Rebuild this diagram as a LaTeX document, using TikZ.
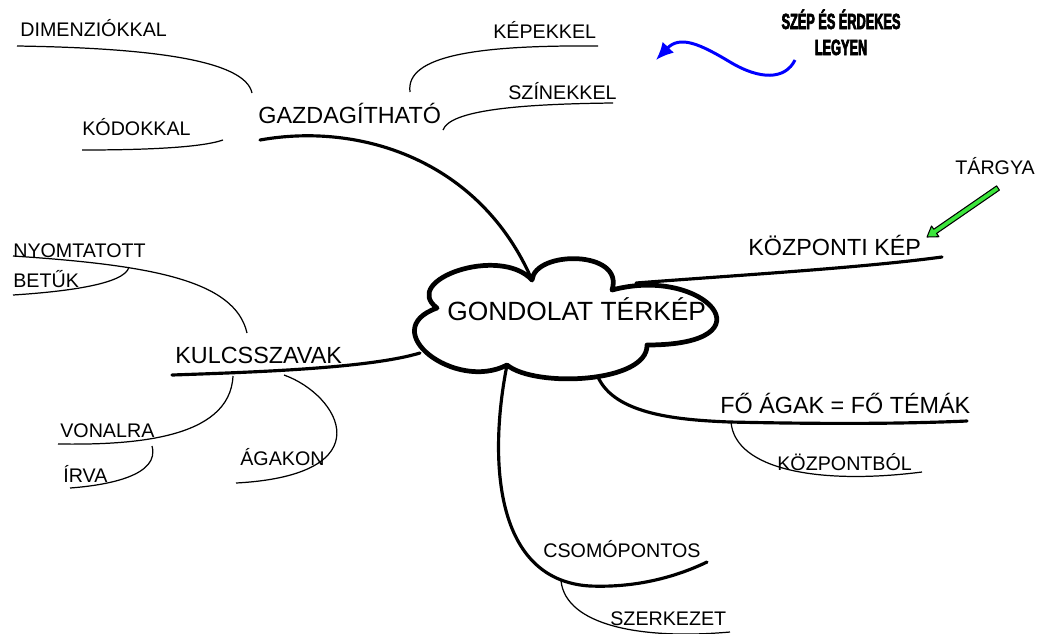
\documentclass[tikz,border=0pt]{standalone}
\usepackage{fontspec}
\setmainfont{Liberation Sans}
\newfontfamily\posterfont[FakeStretch=0.58,FakeBold=3]{Liberation Sans}
\usetikzlibrary{arrows.meta}
\definecolor{arrowgreen}{RGB}{60,230,60}
\tikzset{
	bough/.style={line width=1.8pt, line cap=round},
	twig/.style={line width=0.7pt},
	leaflbl/.style={font=\fontsize{11.2}{13}\selectfont, inner sep=0pt, anchor=base west},
	boughlbl/.style={font=\fontsize{13.3}{15}\selectfont, inner sep=0pt, anchor=base west},
	notelbl/.style={font=\posterfont\bfseries\fontsize{12.5}{14}\selectfont, inner sep=0pt, anchor=base}
}

\begin{document}
\begin{tikzpicture}[x=0.02cm, y=-0.02cm]
		\useasboundingbox (0,0) rectangle (1040,633);
		%%%%% CLOUD POINTS %%%%%
		\coordinate (cA) at (437,308);
		\coordinate (cB) at (532,280);
		\coordinate (cC) at (612,290);
		\coordinate (cD) at (647,345);
		\coordinate (cE) at (507,365);
		\coordinate (cRight) at (636,283);
		\coordinate (cLow) at (598,377);
		\coordinate (cLeft) at (420,353);
		
		%%%%% LABELS %%%%%
		\node[leaflbl] (dim) at (20,36) {DIMENZIÓKKAL};
		\node[leaflbl] (kod) at (82,135) {KÓDOKKAL};
		\node[boughlbl] (gazd) at (258,123) {GAZDAGÍTHATÓ};
		\node[leaflbl] (kep) at (493,38) {KÉPEKKEL};
		\node[leaflbl] (szin) at (508,99) {SZÍNEKKEL};
		\node[boughlbl] (kozp) at (748,255) {KÖZPONTI KÉP};
		\node[leaflbl] (targy) at (955,174) {TÁRGYA};
		\node[boughlbl] (kulcs) at (175,363) {KULCSSZAVAK};
		\node[leaflbl] (nyomt) at (13,257) {NYOMTATOTT};
		\node[leaflbl] (betuk) at (13,287) {BETŰK};
		\node[leaflbl] (vonal) at (60,437) {VONALRA};
		\node[leaflbl] (irva) at (63,482) {ÍRVA};
		\node[leaflbl] (agakon) at (240,465) {ÁGAKON};
		\node[boughlbl] (fo) at (720,413) {FŐ ÁGAK = FŐ TÉMÁK};
		\node[leaflbl] (kozpb) at (777,470) {KÖZPONTBÓL};
		\node[leaflbl] (csomo) at (543,557) {CSOMÓPONTOS};
		\node[leaflbl] (szerk) at (610,625) {SZERKEZET};
		\node[notelbl] (note1) at (841,29) {SZÉP ÉS ÉRDEKES};
		\node[notelbl] (note2) at (841,55) {LEGYEN};
		
		%%%%% MAIN BRANCHES %%%%%
		\draw[bough] (260,140) .. controls (360,122) and (480,160) .. (cB);
		\draw[bough] (cRight) .. controls (740,275) and (860,268) .. (942,257);
		\draw[bough] (cLow) .. controls (615,415) and (680,420) .. (730,422) .. controls (820,424) and (900,424) .. (967,421);
		\draw[bough] (cE) .. controls (490,450) and (490,580) .. (590,586) .. controls (640,588) and (680,575) .. (707,562);
		\draw[bough] (172,375) .. controls (260,372) and (370,368) .. (cLeft);
		
		%%%%% TWIGS %%%%%
		\draw[twig] (252,93) .. controls (245,60) and (150,48) .. (17,46);
		\draw[twig] (82,150) .. controls (140,150) and (200,148) .. (223,140);
		\draw[twig] (410,92) .. controls (405,55) and (480,45) .. (598,46);
		\draw[twig] (443,130) .. controls (450,110) and (520,104) .. (613,103);
		\draw[twig] (731,422) .. controls (735,470) and (820,485) .. (922,472);
		\draw[twig] (561,581) .. controls (566,625) and (640,640) .. (730,632);
		\draw[twig] (247,333) .. controls (235,280) and (150,265) .. (13,256);
		\draw[twig] (129,267) .. controls (125,285) and (60,292) .. (13,295);
		\draw[twig] (233,376) .. controls (230,440) and (130,445) .. (58,444);
		\draw[twig] (152,446) .. controls (160,475) and (110,485) .. (70,488);
		\draw[twig] (284,375) .. controls (340,395) and (385,475) .. (236,483);
		
		%%%%% ARROWS %%%%%
		\draw[blue, line width=1.7pt, -{Latex[length=10pt,width=9pt]}] (795,60) .. controls (785,80) and (760,80) .. (730,62) .. controls (700,44) and (680,35) .. (656,60);
		\filldraw[fill=arrowgreen, draw=black, line width=0.6pt, line join=round] (927,237) -- (938.9,236.7) -- (936.6,233.4) -- (999.4,190.1) -- (996.6,185.9) -- (933.8,229.2) -- (931.5,226.0) -- cycle;
		
		%%%%% CLOUD %%%%%
		\draw[line width=2.7pt, line join=round, fill=white] (cA) .. controls (400,280) and (500,245) .. (cB) .. controls (535,250) and (625,250) .. (cC) .. controls (705,265) and (775,345) .. (cD) .. controls (648,383) and (535,388) .. (cE) .. controls (455,392) and (375,330) .. cycle;
		\node[font=\fontsize{15}{17}\selectfont, inner sep=0pt, anchor=base west] (map) at (447,320) {GONDOLAT TÉRKÉP};
	\end{tikzpicture}
\end{document}
